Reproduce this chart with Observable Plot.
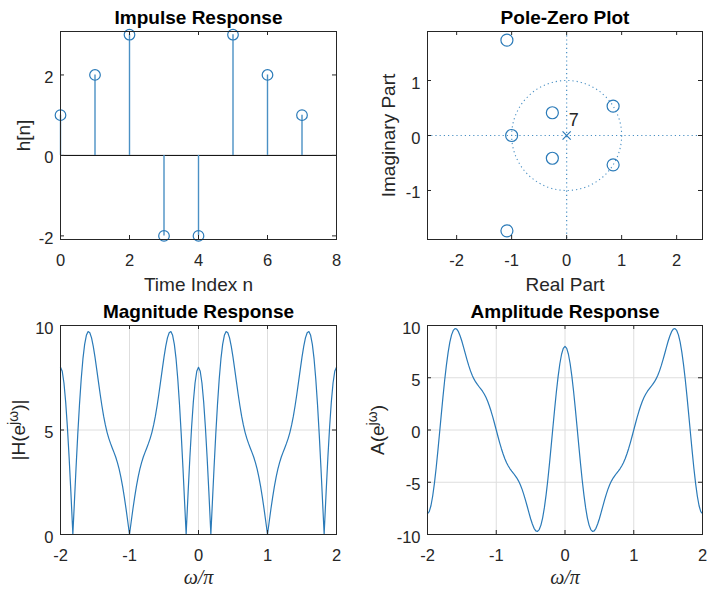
<!DOCTYPE html>
<html>
<head>
<meta charset="utf-8">
<script src="https://cdn.jsdelivr.net/npm/d3@7"></script>
<script src="https://cdn.jsdelivr.net/npm/@observablehq/plot@0.6"></script>
<style>
  body { margin: 0; background: #fff; }
  #fig { position: relative; width: 707px; height: 590px; background: #fff; overflow: hidden; }
  #fig svg { position: absolute; }
</style>
</head>
<body>
<div id="fig"></div>
<script>
// ---------- data ----------
const sampleIndex = [0, 1, 2, 3, 4, 5, 6, 7];
const impulse = [1, 2, 3, -2, -2, 3, 2, 1];

const zeroRe = [-1, 0.845, 0.845, -0.260, -0.260, -1.086, -1.086];
const zeroIm = [0, 0.534, -0.534, 0.414, -0.414, 1.733, -1.733];
const poleRe = [0];
const poleIm = [0];
const poleMultiplicity = [7];
const unitCircleRadius = [1];
const pzAxisLines = [0];

const omegaStart = -2, omegaStep = 0.025; // sampling grid in ω/π
const amplitude = [
  -8, -7.81, -7.25, -6.34, -5.13, -3.68, -2.05, -0.31, 1.45, 3.17, 4.78, 6.21, 7.43, 8.40, 9.10, 9.53, 9.71, 9.65, 9.41, 9.00,
  8.49, 7.90, 7.30, 6.71, 6.16, 5.66, 5.24, 4.89, 4.60, 4.36, 4.14, 3.93, 3.71, 3.44, 3.13, 2.75, 2.30, 1.79, 1.23, 0.62, 0,
  -0.62, -1.23, -1.79, -2.30, -2.75, -3.13, -3.44, -3.71, -3.93, -4.14, -4.36, -4.60, -4.89, -5.24, -5.66, -6.16, -6.71, -7.30, -7.90, -8.49,
  -9.00, -9.41, -9.65, -9.71, -9.53, -9.10, -8.40, -7.43, -6.21, -4.78, -3.17, -1.45, 0.31, 2.05, 3.68, 5.13, 6.34, 7.25, 7.81, 8,
  7.81, 7.25, 6.34, 5.13, 3.68, 2.05, 0.31, -1.45, -3.17, -4.78, -6.21, -7.43, -8.40, -9.10, -9.53, -9.71, -9.65, -9.41, -9.00, -8.49,
  -7.90, -7.30, -6.71, -6.16, -5.66, -5.24, -4.89, -4.60, -4.36, -4.14, -3.93, -3.71, -3.44, -3.13, -2.75, -2.30, -1.79, -1.23, -0.62, 0,
  0.62, 1.23, 1.79, 2.30, 2.75, 3.13, 3.44, 3.71, 3.93, 4.14, 4.36, 4.60, 4.89, 5.24, 5.66, 6.16, 6.71, 7.30, 7.90, 8.49,
  9.00, 9.41, 9.65, 9.71, 9.53, 9.10, 8.40, 7.43, 6.21, 4.78, 3.17, 1.45, -0.31, -2.05, -3.68, -5.13, -6.34, -7.25, -7.81, -8
];
const magnitude = [
  8, 7.81, 7.25, 6.34, 5.13, 3.68, 2.05, 0.31, 1.45, 3.17, 4.78, 6.21, 7.43, 8.40, 9.10, 9.53, 9.71, 9.65, 9.41, 9.00,
  8.49, 7.90, 7.30, 6.71, 6.16, 5.66, 5.24, 4.89, 4.60, 4.36, 4.14, 3.93, 3.71, 3.44, 3.13, 2.75, 2.30, 1.79, 1.23, 0.62, 0,
  0.62, 1.23, 1.79, 2.30, 2.75, 3.13, 3.44, 3.71, 3.93, 4.14, 4.36, 4.60, 4.89, 5.24, 5.66, 6.16, 6.71, 7.30, 7.90, 8.49,
  9.00, 9.41, 9.65, 9.71, 9.53, 9.10, 8.40, 7.43, 6.21, 4.78, 3.17, 1.45, 0.31, 2.05, 3.68, 5.13, 6.34, 7.25, 7.81, 8,
  7.81, 7.25, 6.34, 5.13, 3.68, 2.05, 0.31, 1.45, 3.17, 4.78, 6.21, 7.43, 8.40, 9.10, 9.53, 9.71, 9.65, 9.41, 9.00, 8.49,
  7.90, 7.30, 6.71, 6.16, 5.66, 5.24, 4.89, 4.60, 4.36, 4.14, 3.93, 3.71, 3.44, 3.13, 2.75, 2.30, 1.79, 1.23, 0.62, 0,
  0.62, 1.23, 1.79, 2.30, 2.75, 3.13, 3.44, 3.71, 3.93, 4.14, 4.36, 4.60, 4.89, 5.24, 5.66, 6.16, 6.71, 7.30, 7.90, 8.49,
  9.00, 9.41, 9.65, 9.71, 9.53, 9.10, 8.40, 7.43, 6.21, 4.78, 3.17, 1.45, 0.31, 2.05, 3.68, 5.13, 6.34, 7.25, 7.81, 8
];
const magZeroOmega = [-1.821, -0.179, 0.179, 1.821];
const magZeroValue = [0, 0, 0, 0];

const impulseXTicks = [0, 2, 4, 6, 8];
const impulseYTicks = [-2, 0, 2];
const pzXTicks = [-2, -1, 0, 1, 2];
const pzYTicks = [-1, 0, 1];
const freqTicks = [-2, -1, 0, 1, 2];
const magYTicks = [0, 5, 10];
const ampYTicks = [-10, -5, 0, 5, 10];
const freqGrid = [-1, 0, 1];
const magGrid = [5];
const ampGrid = [-5, 0, 5];

// ---------- tables built from the arrays ----------
const stemData = sampleIndex.map((k, i) => ({n: k, h: impulse[i]}));
const zeroData = zeroRe.map((re, i) => ({re, im: zeroIm[i]}));
const poleData = poleRe.map((re, i) => ({re, im: poleIm[i], m: poleMultiplicity[i]}));
const circleData = unitCircleRadius.map(r => ({re: poleRe[0], im: poleIm[0], r}));
const ampData = amplitude.map((v, i) => ({w: omegaStart + i * omegaStep, v}));
const magData = magnitude.map((v, i) => ({w: omegaStart + i * omegaStep, v}))
  .concat(magZeroOmega.map((w, i) => ({w, v: magZeroValue[i]})))
  .sort((a, b) => a.w - b.w);

// ---------- styling ----------
const FONT = "'Liberation Sans', Arial, Helvetica, sans-serif";
const SERIF = "'Liberation Serif', 'Times New Roman', serif";
const BLUE = "#2a7ab8";
const LIGHTBLUE = "#4a90c4";
const AX = "#262626";
const GRID = "#dedede";
const TICK = 4;

function panel(c) {
  const fw = c.width - c.ml - c.mr, fh = c.height - c.mt - c.mb;
  const marks = [];
  if (c.xGrid) marks.push(Plot.ruleX(c.xGrid, {x: d => d, stroke: GRID, strokeWidth: 1}));
  if (c.yGrid) marks.push(Plot.ruleY(c.yGrid, {y: d => d, stroke: GRID, strokeWidth: 1}));
  marks.push(...c.marks);
  marks.push(Plot.frame({stroke: AX, strokeWidth: 1}));
  marks.push(Plot.ruleX(c.xTicks, {x: d => d, insetTop: fh - TICK, stroke: AX}));
  marks.push(Plot.ruleX(c.xTicks, {x: d => d, insetBottom: fh - TICK, stroke: AX}));
  marks.push(Plot.ruleY(c.yTicks, {y: d => d, insetRight: fw - TICK, stroke: AX}));
  marks.push(Plot.ruleY(c.yTicks, {y: d => d, insetLeft: fw - TICK, stroke: AX}));
  marks.push(Plot.text(c.xTicks, {x: d => d, text: d => String(d), frameAnchor: "bottom", lineAnchor: "bottom", dy: 26, fontSize: 16.5, fill: AX}));
  marks.push(Plot.text(c.yTicks, {y: d => d, text: d => String(d), frameAnchor: "left", textAnchor: "end", lineAnchor: "bottom", dx: -7, dy: 8, fontSize: 16.5, fill: AX}));
  marks.push(Plot.text([c.title], {text: d => d, frameAnchor: "top", lineAnchor: "bottom", dy: -7.5, fontSize: 19, fontWeight: "bold", fill: "#000"}));
  marks.push(Plot.text([c.xLabel], {text: d => d, frameAnchor: "bottom", lineAnchor: "bottom", dy: c.xLabelDy, fontSize: c.xLabelSerif ? 20 : 19, fill: AX,
    fontFamily: c.xLabelSerif ? SERIF : FONT, fontStyle: c.xLabelSerif ? "italic" : "normal"}));
  marks.push(Plot.text([c.yLabel], {text: d => d, frameAnchor: "left", rotate: -90, lineAnchor: "bottom", textAnchor: "middle", dx: c.yLabelDx, fontSize: 19, fill: AX}));
  const opts = {
    width: c.width, height: c.height,
    marginTop: c.mt, marginRight: c.mr, marginBottom: c.mb, marginLeft: c.ml,
    x: {domain: c.xDomain, axis: null},
    y: {domain: c.yDomain, axis: null},
    style: {fontFamily: FONT, background: "transparent", overflow: "visible"},
    marks
  };
  if (c.r) opts.r = c.r;
  const svg = Plot.plot(opts);
  svg.style.left = c.left + "px";
  svg.style.top = c.top + "px";
  // render "^{...}" as superscript
  svg.querySelectorAll("text").forEach(t => {
    const s = t.textContent;
    const m = s.match(/^(.*)\^\{(.*)\}(.*)$/);
    if (!m) return;
    const ns = "http://www.w3.org/2000/svg";
    t.textContent = "";
    const a = document.createElementNS(ns, "tspan"); a.textContent = m[1];
    const b = document.createElementNS(ns, "tspan"); b.textContent = m[2];
    b.setAttribute("dy", "-7"); b.setAttribute("font-size", "14");
    const e = document.createElementNS(ns, "tspan"); e.textContent = m[3];
    e.setAttribute("dy", "7"); e.setAttribute("font-size", "19");
    t.append(a, b, e);
  });
  document.getElementById("fig").appendChild(svg);
}

// Impulse response
panel({
  left: 0, top: 0, width: 354, height: 295, ml: 60, mr: 18, mt: 31, mb: 56,
  xDomain: [0, 8], yDomain: [-2.09, 3.08],
  xTicks: impulseXTicks, yTicks: impulseYTicks,
  title: "Impulse Response", xLabel: "Time Index n", xLabelDy: 51, yLabel: "h[n]", yLabelDx: -31,
  marks: [
    Plot.ruleY([0], {y: d => d, stroke: "#000", strokeWidth: 1}),
    Plot.ruleX(stemData, {x: "n", y1: 0, y2: "h", stroke: LIGHTBLUE, strokeWidth: 1.4}),
    Plot.dot(stemData, {x: "n", y: "h", r: 5.3, stroke: BLUE, fill: "none", strokeWidth: 1.2})
  ]
});

// Pole-zero plot
const pzML = 73, pzMR = 5, pzW = 353;
const pzXDomain = [-2.53, 2.47];
const pxPerUnit = (pzW - pzML - pzMR) / (pzXDomain[1] - pzXDomain[0]);
panel({
  left: 354, top: 0, width: pzW, height: 295, ml: pzML, mr: pzMR, mt: 31, mb: 56,
  xDomain: pzXDomain, yDomain: [-1.891, 1.891],
  xTicks: pzXTicks, yTicks: pzYTicks,
  r: {type: "linear", domain: [0, 1], range: [0, pxPerUnit]},
  title: "Pole-Zero Plot", xLabel: "Real Part", xLabelDy: 51, yLabel: "Imaginary Part", yLabelDx: -33,
  marks: [
    Plot.ruleX(pzAxisLines, {x: d => d, stroke: LIGHTBLUE, strokeWidth: 1.2, strokeDasharray: "1.2,3"}),
    Plot.ruleY(pzAxisLines, {y: d => d, stroke: LIGHTBLUE, strokeWidth: 1.2, strokeDasharray: "1.2,3"}),
    Plot.dot(circleData, {x: "re", y: "im", r: "r", stroke: LIGHTBLUE, fill: "none", strokeWidth: 1.1, strokeDasharray: "1.2,3"}),
    Plot.dot(zeroData, {x: "re", y: "im", r: 6, stroke: BLUE, fill: "none", strokeWidth: 1.2}),
    Plot.dot(poleData, {x: "re", y: "im", r: 3.8, symbol: "times", stroke: BLUE, strokeWidth: 1.2}),
    Plot.text(poleData, {x: "re", y: "im", text: d => String(d.m), textAnchor: "start", lineAnchor: "bottom", dx: 2, dy: -10, fontSize: 18, fill: AX})
  ]
});

// Magnitude response
panel({
  left: 0, top: 295, width: 354, height: 295, ml: 60, mr: 18, mt: 30, mb: 56,
  xDomain: [-2, 2], yDomain: [0, 10],
  xTicks: freqTicks, yTicks: magYTicks, xGrid: freqGrid, yGrid: magGrid,
  title: "Magnitude Response", xLabel: "ω/π", xLabelSerif: true, xLabelDy: 49.5, yLabel: "|H(e^{jω})|", yLabelDx: -36,
  marks: [
    Plot.line(magData, {x: "w", y: "v", stroke: BLUE, strokeWidth: 1.2})
  ]
});

// Amplitude response
panel({
  left: 354, top: 295, width: 353, height: 295, ml: 73, mr: 5, mt: 30, mb: 56,
  xDomain: [-2, 2], yDomain: [-10, 10],
  xTicks: freqTicks, yTicks: ampYTicks, xGrid: freqGrid, yGrid: ampGrid,
  title: "Amplitude Response", xLabel: "ω/π", xLabelSerif: true, xLabelDy: 49.5, yLabel: "A(e^{jω})", yLabelDx: -44,
  marks: [
    Plot.line(ampData, {x: "w", y: "v", stroke: BLUE, strokeWidth: 1.2})
  ]
});
</script>
</body>
</html>
